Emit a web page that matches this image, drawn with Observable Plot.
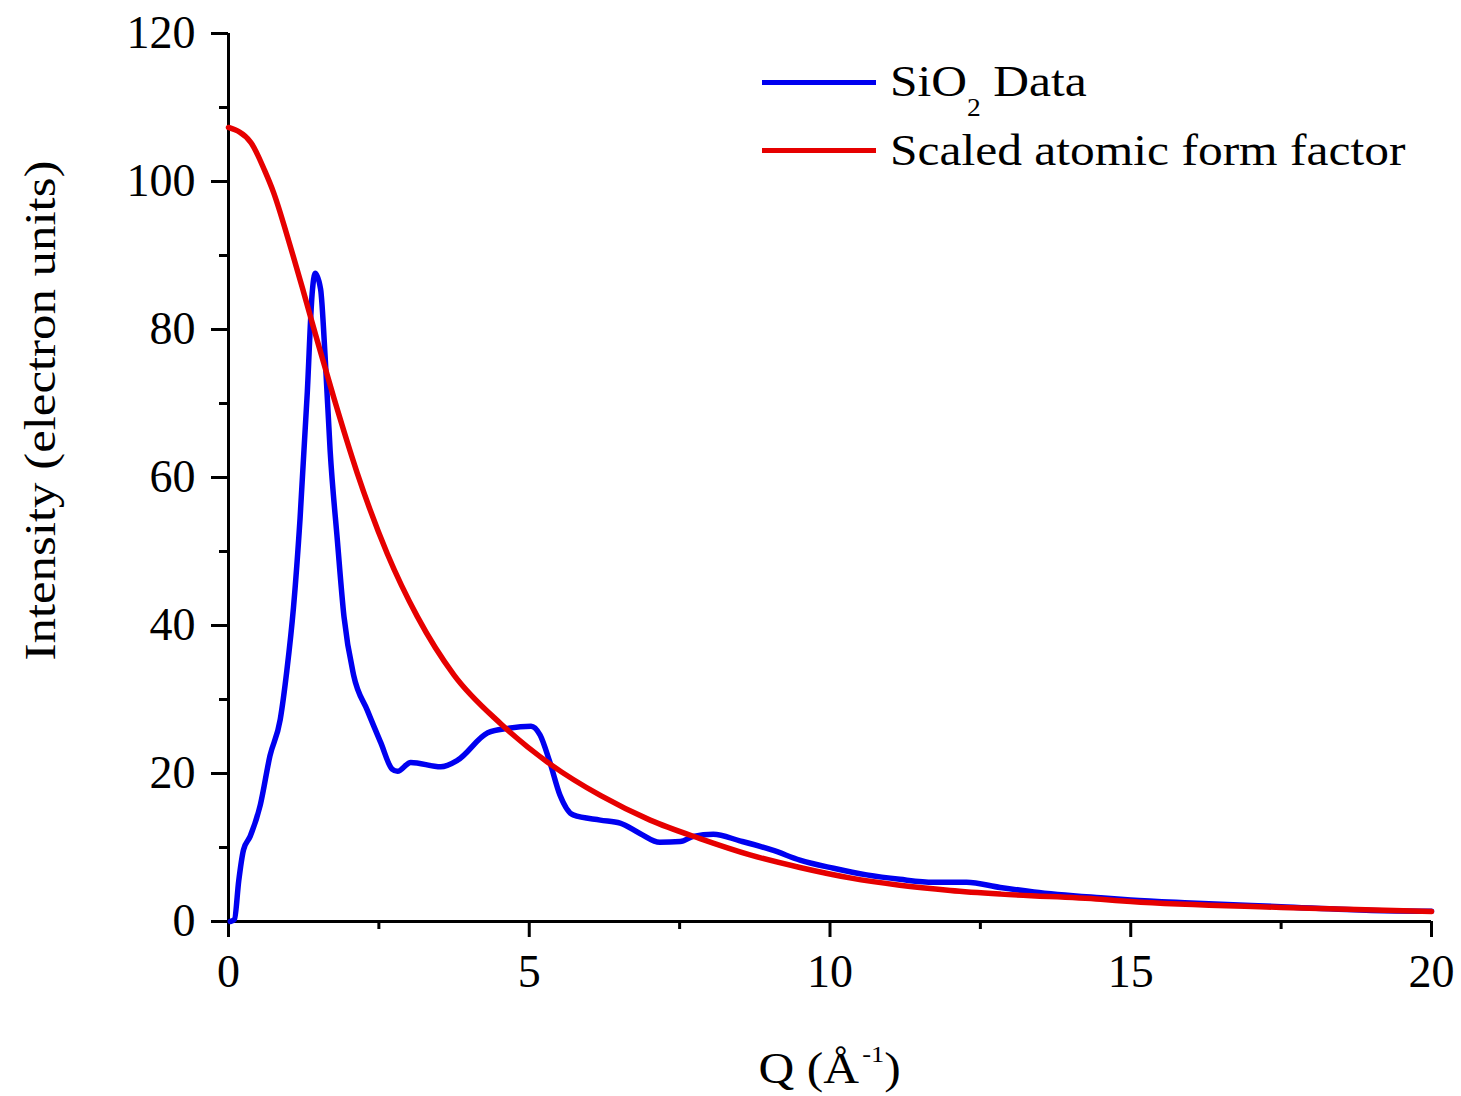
<!DOCTYPE html>
<html>
<head>
<meta charset="utf-8">
<script src="https://cdn.jsdelivr.net/npm/d3@7"></script>
<script src="https://cdn.jsdelivr.net/npm/@observablehq/plot@0.6"></script>
<style>
  body { margin: 0; background: #fff; }
  #fig { position: relative; width: 1461px; height: 1096px; font-family: "Liberation Serif", "Times New Roman", serif; color: #000; }
  #fig svg { position: absolute; left: 0; top: 0; }
  .lbl { position: absolute; white-space: nowrap; font-size: 45px; line-height: 45px; }
  .swatch { position: absolute; height: 5px; }
</style>
</head>
<body>
<div id="fig"></div>
<script>
// Measured SiO2 scattering intensity, Q in inverse angstroms
const qData = [0.03, 0.1, 0.17, 0.25, 0.36, 0.53, 0.69, 0.86, 0.97, 1.08, 1.19, 1.31, 1.39, 1.44, 1.53, 1.61, 1.69, 1.81, 1.92, 2.08, 2.31, 2.53, 2.72, 2.81, 3.03, 3.53, 3.81, 4.31, 4.64, 5.03, 5.18, 5.34, 5.51, 5.73, 6.18, 6.51, 6.84, 7.17, 7.51, 7.73, 8.06, 8.5, 9.06, 9.5, 10.06, 10.61, 11.16, 11.72, 12.27, 12.83, 13.39, 14.5, 15, 16, 17.5, 19, 20];
const iData = [0, 0.3, 5.5, 9.7, 11.5, 15.8, 22.4, 27.3, 33.9, 42.4, 54.5, 71.5, 84.8, 87.6, 85.5, 75.8, 63.6, 51.5, 41.2, 33.3, 28.5, 24.2, 20.6, 20.3, 21.5, 20.9, 21.8, 25.5, 26.1, 26.4, 25.2, 21.6, 17.1, 14.4, 13.7, 13.3, 11.9, 10.7, 10.8, 11.5, 11.8, 10.9, 9.6, 8.3, 7.2, 6.3, 5.7, 5.3, 5.3, 4.6, 4.0, 3.2, 2.9, 2.5, 2.0, 1.5, 1.4];

// Scaled atomic form factor
const qForm = [0, 0.37, 0.6, 0.75, 1.0, 1.25, 1.5, 1.75, 2.14, 2.64, 3.14, 3.75, 4.53, 5.36, 6.19, 7.01, 7.84, 8.67, 9.5, 10.33, 11.16, 12, 12.84, 14.5, 15, 17.5, 20];
const fForm = [107.3, 105.3, 101.5, 98.5, 92.0, 85.0, 77.8, 70.8, 60.6, 49.7, 41.2, 33.3, 26.7, 21.2, 17.0, 13.7, 11.2, 9.0, 7.3, 5.9, 4.9, 4.2, 3.7, 3.0, 2.7, 1.9, 1.35];

const xMajor = [0, 5, 10, 15, 20];
const xMinor = [2.5, 7.5, 12.5, 17.5];
const yMajor = [0, 20, 40, 60, 80, 100, 120];
const yMinor = [10, 30, 50, 70, 90, 110];

const seriesNames = ["SiO\u2082 Data", "Scaled atomic form factor"];
const seriesColors = ["#0000f0", "#e60000"];

const dataRows = qData.map((q, k) => ({q, v: iData[k]}));
const formRows = qForm.map((q, k) => ({q, v: fForm[k]}));

const chart = Plot.plot({
  width: 1461,
  height: 1096,
  marginLeft: 228,
  marginRight: 30,
  marginTop: 33,
  marginBottom: 175,
  style: {fontFamily: "'Liberation Serif', 'Times New Roman', serif", fontSize: "46px", color: "#000", background: "transparent"},
  x: {domain: [0, 20]},
  y: {domain: [0, 120]},
  marks: [
    Plot.axisX({ticks: xMajor, tickSize: 16, tickPadding: 17, strokeWidth: 3, label: null, fontSize: 46}),
    Plot.axisX({ticks: xMinor, tickSize: 8, strokeWidth: 3, tickFormat: () => "", label: null}),
    Plot.axisY({ticks: yMajor, tickSize: 17, tickPadding: 16, strokeWidth: 3, label: null, fontSize: 46}),
    Plot.axisY({ticks: yMinor, tickSize: 9, strokeWidth: 3, tickFormat: () => "", label: null}),
    Plot.ruleX([0], {strokeWidth: 3, stroke: "#000"}),
    Plot.ruleY([0], {strokeWidth: 3, stroke: "#000"}),
    Plot.line(dataRows, {x: "q", y: "v", stroke: seriesColors[0], strokeWidth: 5.5, curve: "monotone-x"}),
    Plot.line(formRows, {x: "q", y: "v", stroke: seriesColors[1], strokeWidth: 5.5, curve: "monotone-x"})
  ]
});

const fig = document.getElementById("fig");
fig.appendChild(chart);

// Axis titles
const yTitle = document.createElement("div");
yTitle.className = "lbl";
Object.assign(yTitle.style, {left: (40 - 350) + "px", top: (410 - 22.5) + "px", width: "700px", textAlign: "center", transform: "rotate(-90deg) scaleX(1.13)", transformOrigin: "50% 50%"});
yTitle.textContent = "Intensity (electron units)";
fig.appendChild(yTitle);

const xTitle = document.createElement("div");
xTitle.className = "lbl";
Object.assign(xTitle.style, {left: "228px", top: "1046px", width: "1203px", textAlign: "center"});
xTitle.innerHTML = '<span style="display:inline-block;transform:scaleX(1.1)">Q (\u00c5<span style="font-size:24px;position:relative;top:-21px;margin-left:3px">-1</span>)</span>';
fig.appendChild(xTitle);

// Legend
const legendRows = [
  {line: 82, top: 59, html: 'SiO<span style="font-size:25px;position:relative;top:20px">2</span> Data'},
  {line: 150, top: 128, html: seriesNames[1]}
];
legendRows.forEach((r, k) => {
  const sw = document.createElement("div");
  sw.className = "swatch";
  Object.assign(sw.style, {left: "762px", width: "114px", top: (r.line - 2.5) + "px", background: seriesColors[k]});
  fig.appendChild(sw);
  const tx = document.createElement("div");
  tx.className = "lbl";
  Object.assign(tx.style, {left: "890px", top: r.top + "px", transform: "scaleX(1.1)", transformOrigin: "0 0"});
  tx.innerHTML = r.html;
  fig.appendChild(tx);
});
</script>
</body>
</html>
